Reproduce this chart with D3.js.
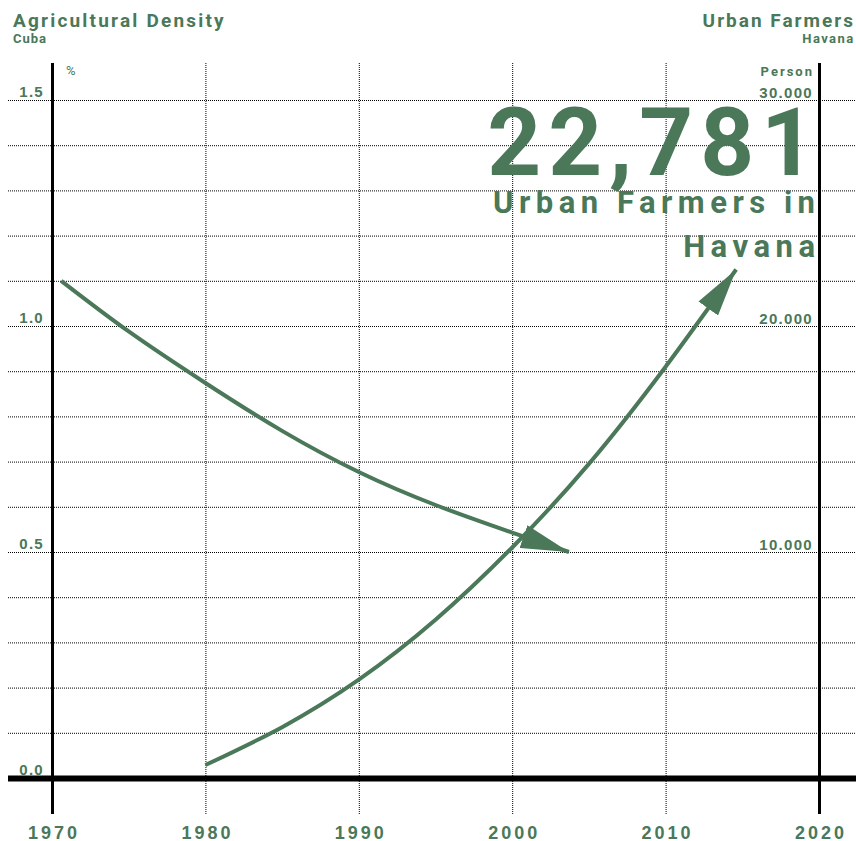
<!DOCTYPE html>
<html>
<head>
<meta charset="utf-8">
<script src="https://cdn.jsdelivr.net/npm/d3@7"></script>
<style>
  body { margin: 0; background: #fff; }
  svg { display: block; font-family: Roboto, "DejaVu Sans", sans-serif; }
</style>
</head>
<body>
<script>
// data
var densityYears  = [1970.6, 1975, 1980, 1985, 1990, 1995, 2000, 2003.7];
var densityValues = [1.10, 0.988, 0.874, 0.768, 0.677, 0.604, 0.543, 0.50];
var farmerYears   = [1980, 1985, 1990, 1995, 2000, 2005, 2010, 2014.6];
var farmerValues  = [575, 2250, 4350, 7000, 10200, 13900, 18200, 22500];
var yearTicks     = [1970, 1980, 1990, 2000, 2010, 2020];
var leftTicks     = [0, 0.5, 1.0, 1.5];
var rightTicks    = [10000, 20000, 30000];
var headline      = 22781;

var green = "#4a7858";
var width = 856, height = 841;

var x  = d3.scaleLinear().domain([1970, 2020]).range([52, 819]);
var yL = d3.scaleLinear().domain([0, 1.5]).range([778, 100]);
var yR = d3.scaleLinear().domain([0, 30000]).range([778, 100]);

var dotFmt = d3.formatLocale({decimal: ",", thousands: ".", grouping: [3], currency: ["", ""]}).format(",");
var comFmt = d3.format(",");

var svg = d3.select("body").append("svg")
    .attr("width", width)
    .attr("height", height);

svg.append("defs").append("marker")
    .attr("id", "arrow")
    .attr("viewBox", "0 0 12 6")
    .attr("refX", 12).attr("refY", 3)
    .attr("markerUnits", "userSpaceOnUse")
    .attr("markerWidth", 48).attr("markerHeight", 24)
    .attr("orient", "auto")
  .append("path")
    .attr("d", "M0,0L12,3L0,6Z")
    .attr("fill", green);

// horizontal dotted grid every 0.1
svg.append("g")
    .attr("transform", "translate(8,0)")
    .call(d3.axisLeft(yL).tickValues(d3.range(1, 16).map(function(d) { return d / 10; }))
        .tickSize(-848).tickFormat(""))
    .call(function(g) { g.select(".domain").remove(); })
    .selectAll("line")
    .attr("stroke", "#000")
    .attr("stroke-dasharray", "1,1");

// vertical grid
svg.append("g")
    .attr("transform", "translate(0,814)")
    .call(d3.axisBottom(x).tickValues(yearTicks).tickSize(-751).tickFormat(""))
    .call(function(g) { g.select(".domain").remove(); })
    .selectAll("line")
    .attr("stroke", "#000")
    .attr("stroke-width", function(d) { return d === 1970 || d === 2020 ? 3 : 1; })
    .attr("stroke-dasharray", function(d) { return d === 1970 || d === 2020 ? null : "1,1"; });

// baseline
svg.append("line")
    .attr("x1", 8).attr("x2", 856)
    .attr("y1", yL(0) + 0.5).attr("y2", yL(0) + 0.5)
    .attr("stroke", "#000")
    .attr("stroke-width", 6);

// year labels
svg.append("g")
    .attr("transform", "translate(1.5,836)")
    .call(d3.axisBottom(x).tickValues(yearTicks).tickSize(0).tickFormat(d3.format("d")))
    .call(function(g) { g.select(".domain").remove(); })
    .selectAll("text")
    .attr("dy", 0)
    .attr("fill", green)
    .style("font-size", "18px")
    .style("font-weight", "700")
    .style("letter-spacing", "3px");

// left labels
svg.append("g")
    .attr("transform", "translate(44,-4)")
    .call(d3.axisLeft(yL).tickValues(leftTicks).tickSize(0).tickPadding(0).tickFormat(d3.format(".1f")))
    .call(function(g) { g.select(".domain").remove(); })
    .selectAll("text")
    .attr("dy", 0)
    .attr("fill", green)
    .style("font-size", "15px")
    .style("font-weight", "700")
    .style("letter-spacing", "1.3px");

// right labels
svg.append("g")
    .attr("transform", "translate(813,-3)")
    .call(d3.axisLeft(yR).tickValues(rightTicks).tickSize(0).tickPadding(0).tickFormat(dotFmt))
    .call(function(g) { g.select(".domain").remove(); })
    .selectAll("text")
    .attr("dy", 0)
    .attr("fill", green)
    .style("font-size", "15px")
    .style("font-weight", "700")
    .style("letter-spacing", "1.3px");

// unit labels
svg.append("text").attr("x", 66).attr("y", 75).attr("fill", green)
    .style("font-size", "13px").text("%");
svg.append("text").attr("x", 814).attr("y", 76).attr("fill", green)
    .attr("text-anchor", "end")
    .style("font-size", "13px").style("font-weight", "700").style("letter-spacing", "2px")
    .text("Person");

// titles
svg.append("text").attr("x", 13).attr("y", 27).attr("fill", green)
    .style("font-size", "19px").style("font-weight", "700").style("letter-spacing", "2.2px")
    .text("Agricultural Density");
svg.append("text").attr("x", 13).attr("y", 43).attr("fill", green)
    .style("font-size", "13px").style("font-weight", "700").style("letter-spacing", "1px")
    .text("Cuba");
svg.append("text").attr("x", 855).attr("y", 27).attr("fill", green)
    .attr("text-anchor", "end")
    .style("font-size", "19px").style("font-weight", "700").style("letter-spacing", "2px")
    .text("Urban Farmers");
svg.append("text").attr("x", 854.5).attr("y", 43).attr("fill", green)
    .attr("text-anchor", "end")
    .style("font-size", "13px").style("font-weight", "700").style("letter-spacing", "1.4px")
    .text("Havana");

// headline
svg.append("text").attr("x", 822).attr("y", 175).attr("fill", green)
    .attr("text-anchor", "end")
    .style("font-size", "94px").style("font-weight", "700").style("letter-spacing", "7px")
    .text(comFmt(headline));
svg.append("text").attr("x", 820.5).attr("y", 213).attr("fill", green)
    .attr("text-anchor", "end")
    .style("font-size", "31px").style("font-weight", "700").style("letter-spacing", "5.5px")
    .text("Urban Farmers in");
svg.append("text").attr("x", 820.5).attr("y", 257).attr("fill", green)
    .attr("text-anchor", "end")
    .style("font-size", "31px").style("font-weight", "700").style("letter-spacing", "5.5px")
    .text("Havana");

// lines
var density = densityYears.map(function(d, i) { return [d, densityValues[i]]; });
var farmers = farmerYears.map(function(d, i) { return [d, farmerValues[i]]; });

var densityLine = d3.line()
    .x(function(d) { return x(d[0]); })
    .y(function(d) { return yL(d[1]); })
    .curve(d3.curveNatural);

var farmerLine = d3.line()
    .x(function(d) { return x(d[0]); })
    .y(function(d) { return yR(d[1]); })
    .curve(d3.curveNatural);

svg.append("path")
    .datum(density)
    .attr("fill", "none")
    .attr("stroke", green)
    .attr("stroke-width", 4)
    .attr("marker-end", "url(#arrow)")
    .attr("d", densityLine);

svg.append("path")
    .datum(farmers)
    .attr("fill", "none")
    .attr("stroke", green)
    .attr("stroke-width", 4)
    .attr("marker-end", "url(#arrow)")
    .attr("d", farmerLine);
</script>
</body>
</html>
